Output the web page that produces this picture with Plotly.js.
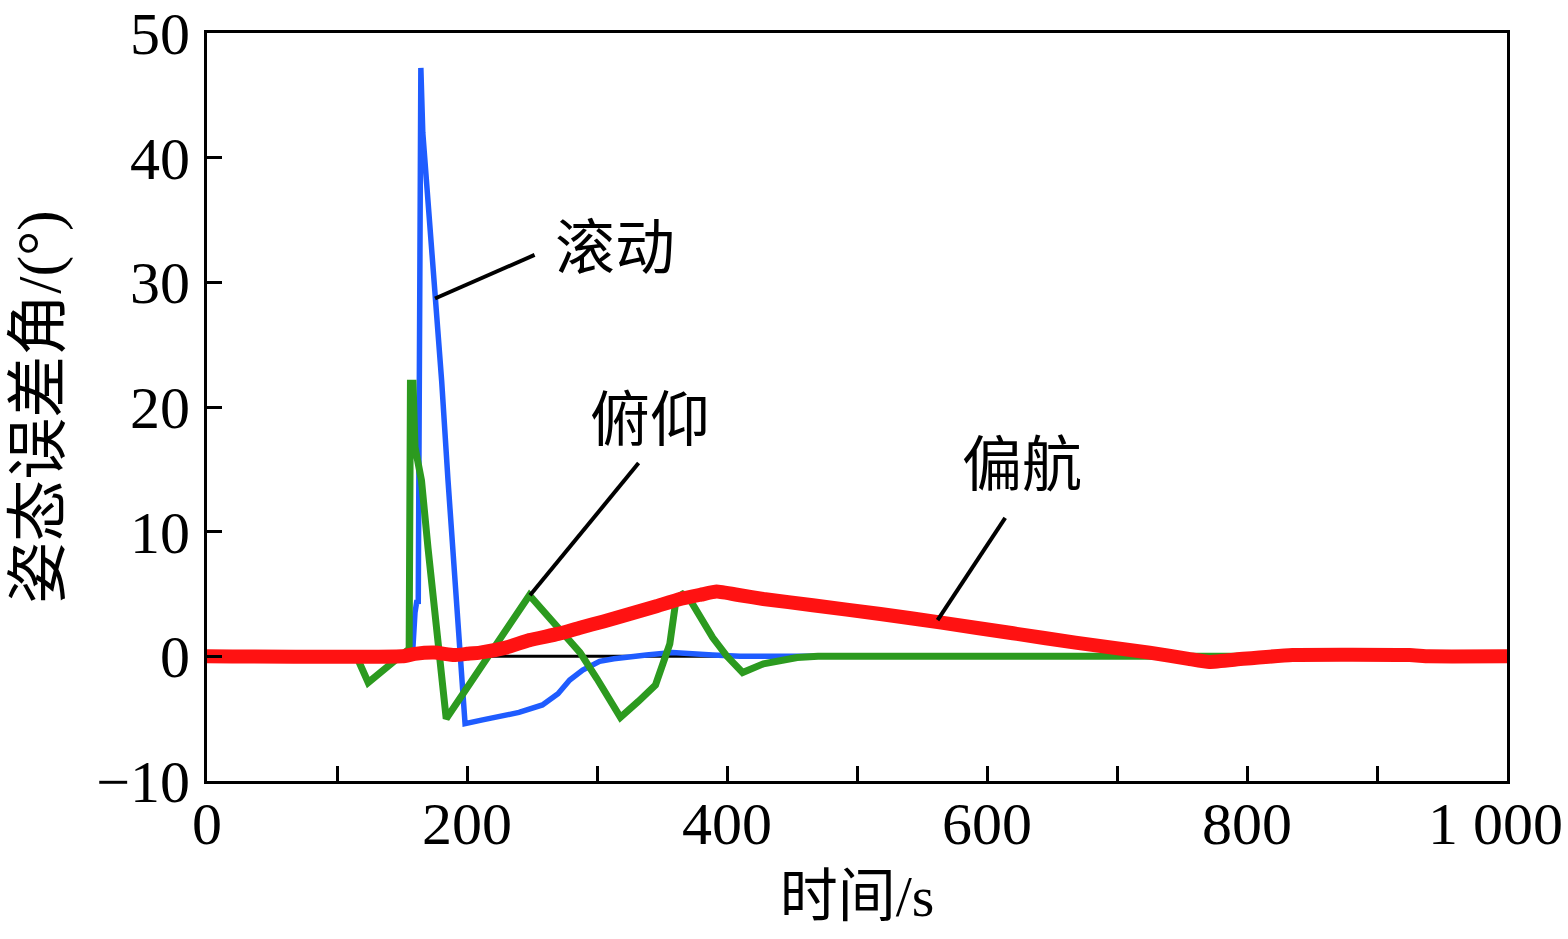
<!DOCTYPE html>
<html>
<head>
<meta charset="utf-8">
<script src="https://cdn.plot.ly/plotly-3.0.1.min.js"></script>
<style>html,body{margin:0;padding:0;background:#fff;}#chart{width:1568px;height:939px;}</style>
</head>
<body>
<div id="chart"></div>
<script>
// Time axis (s) and attitude error (deg)
const rollT = [0, 158, 160, 161.5, 162.5, 163.5, 164.5, 166, 170, 175, 180.5, 185.4, 190.8, 196, 198.5, 212, 240, 258, 270, 279, 289, 302, 313, 338, 358, 389, 410, 1000];
const rollV = [0, 0, 3.5, 4.5, 4.2, 40, 47.2, 42, 36.6, 28.5, 22.1, 14.1, 6.1, -1.4, -5.4, -5.1, -4.5, -3.9, -3.0, -1.9, -1.1, -0.4, -0.2, 0.1, 0.3, 0.1, 0, 0];

const pitchT = [0, 115, 124, 152, 155.5, 156.5, 158.5, 160, 165, 170, 175, 179, 184, 248, 270, 287, 300, 318, 332, 345, 356, 361, 366, 370, 389, 400, 412, 428, 454, 470, 1000];
const pitchV = [0, 0, -2.1, 0.4, 0.6, 21.9, 21.9, 16.8, 14.1, 8.7, 3.4, -0.6, -5.0, 4.9, 2.4, 0.3, -1.8, -4.9, -3.6, -2.3, 1.0, 4.7, 5.0, 4.8, 1.5, 0, -1.3, -0.6, -0.1, 0, 0];

const yawT = [0, 150, 160, 175, 190, 200, 210, 230, 248, 270, 287, 305, 325, 345, 364, 380, 392, 410, 428, 466, 518, 565, 620, 668, 725, 755, 771, 797, 835, 925, 940, 1000];
const yawV = [0, 0, 0.2, 0.3, 0.1, 0.2, 0.3, 0.7, 1.3, 1.8, 2.3, 2.8, 3.4, 4.0, 4.6, 4.95, 5.2, 4.9, 4.6, 4.1, 3.4, 2.7, 1.85, 1.1, 0.3, -0.2, -0.45, -0.2, 0.1, 0.1, 0, 0];

const refT = [0, 1000];
const refV = [0, 0];

const xTickVals = [0, 100, 200, 300, 400, 500, 600, 700, 800, 900, 1000];
const xTickText = ['0', '', '200', '', '400', '', '600', '', '800', '', ''];
const xLastLabel = '1 000';
const xLastValue = 1000;
const yTickVals = [-10, 0, 10, 20, 30, 40, 50];
const yTickText = ['\u221210', '0', '10', '20', '30', '40', '50'];

const labelText = ['滚动', '俯仰', '偏航'];
const labelX = [314, 341, 627];
const labelY = [32.7, 18.9, 15.3];
const leaderX0 = [175.4, 248.5, 562];
const leaderY0 = [28.7, 4.9, 2.9];
const leaderX1 = [252, 332, 614];
const leaderY1 = [32.2, 15.5, 11.1];

const FONT = 'Liberation Serif, "Times New Roman", "Noto Sans CJK SC", serif';

const traces = [
  {x: refT, y: refV, mode: 'lines', line: {color: '#000', width: 3}, hoverinfo: 'skip'},
  {x: rollT, y: rollV, mode: 'lines', name: '滚动', line: {color: '#1f5cff', width: 5.5}},
  {x: pitchT, y: pitchV, mode: 'lines', name: '俯仰', line: {color: '#2c9a1f', width: 7}},
  {x: yawT, y: yawV, mode: 'lines', name: '偏航', line: {color: '#ff1212', width: 14, shape: 'spline', smoothing: 0.4}}
];

const shapes = leaderX0.map((x0, i) => ({
  type: 'line', xref: 'x', yref: 'y',
  x0: x0, y0: leaderY0[i], x1: leaderX1[i], y1: leaderY1[i],
  line: {color: '#000', width: 4}
}));

const annotations = labelText.map((t, i) => ({
  text: t, x: labelX[i], y: labelY[i], xref: 'x', yref: 'y',
  showarrow: false, font: {family: FONT, size: 60, color: '#000'}
}));
// last x tick label, kept inside the page like the reference
annotations.push({
  text: xLastLabel, x: xLastValue, xref: 'x', xanchor: 'right', xshift: 58,
  y: 0, yref: 'paper', yanchor: 'top', yshift: -8,
  showarrow: false, font: {family: FONT, size: 60, color: '#000'}
});

const layout = {
  width: 1568, height: 939,
  margin: {l: 207, r: 61, t: 33, b: 158},
  paper_bgcolor: '#fff', plot_bgcolor: '#fff',
  showlegend: false,
  font: {family: FONT, color: '#000'},
  xaxis: {
    range: [0, 1000], tickmode: 'array', tickvals: xTickVals, ticktext: xTickText,
    ticks: 'inside', ticklen: 15, tickwidth: 3, tickcolor: '#000',
    showline: true, mirror: true, linewidth: 3, linecolor: '#000',
    showgrid: false, zeroline: false,
    tickfont: {family: FONT, size: 60, color: '#000'},
    ticklabelstandoff: -12,
    title: {text: '时间/s', font: {family: FONT, size: 58, color: '#000'}, standoff: 20}
  },
  yaxis: {
    range: [-10, 50], tickmode: 'array', tickvals: yTickVals, ticktext: yTickText,
    ticks: 'inside', ticklen: 15, tickwidth: 3, tickcolor: '#000',
    showline: true, mirror: true, linewidth: 3, linecolor: '#000',
    showgrid: false, zeroline: false,
    tickfont: {family: FONT, size: 60, color: '#000'},
    ticklabelstandoff: 2,
    title: {text: '姿态误差角/(°)', font: {family: FONT, size: 62, color: '#000'}, standoff: 16}
  },
  shapes: shapes,
  annotations: annotations
};

Plotly.newPlot('chart', traces, layout, {staticPlot: true, displayModeBar: false});
</script>
</body>
</html>
